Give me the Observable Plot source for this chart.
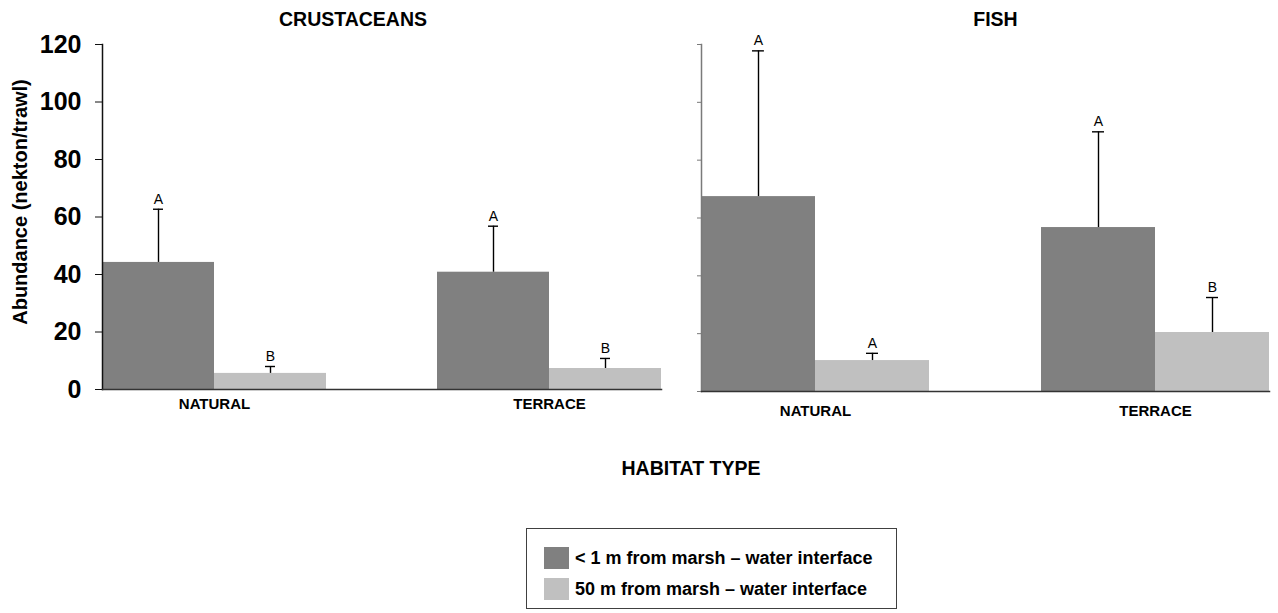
<!DOCTYPE html>
<html>
<head>
<meta charset="utf-8">
<script src="https://cdn.jsdelivr.net/npm/d3@7"></script>
<script src="https://cdn.jsdelivr.net/npm/@observablehq/plot@0.6"></script>
<style>
  html, body { margin: 0; padding: 0; background: #fff; }
  #wrap { position: relative; width: 1278px; height: 613px; overflow: hidden; background: #fff;
          font-family: "Liberation Sans", Arial, sans-serif; }
  #wrap svg { position: absolute; top: 0; }
</style>
</head>
<body>
<div id="wrap"></div>
<script>
// ---- data ----
const habitats = ["NATURAL", "TERRACE"];
const distances = ["< 1 m from marsh – water interface", "50 m from marsh – water interface"];
const colors = ["#808080", "#c0c0c0"];
const yTicks = [0, 20, 40, 60, 80, 100, 120];

// Crustaceans (mean, standard error, significance letter) per habitat
const crustNearMean = [44.2, 40.8];
const crustNearSE   = [18.5, 16.0];
const crustFarMean  = [5.6, 7.3];
const crustFarSE    = [2.4, 3.5];
const crustNearLetter = ["A", "A"];
const crustFarLetter  = ["B", "B"];

// Fish
const fishNearMean = [67.4, 56.7];
const fishNearSE   = [50.4, 33.1];
const fishFarMean  = [10.7, 20.4];
const fishFarSE    = [2.5, 12.1];
const fishNearLetter = ["A", "A"];
const fishFarLetter  = ["A", "B"];

const panelTitles = ["CRUSTACEANS", "FISH"];
const yTitle = "Abundance (nekton/trawl)";
const xTitle = "HABITAT TYPE";

function rowsFor(nm, ns, nl, fm, fs, fl) {
  const rows = [];
  habitats.forEach((h, i) => {
    rows.push({habitat: h, distance: distances[0], mean: nm[i], se: ns[i], letter: nl[i]});
    rows.push({habitat: h, distance: distances[1], mean: fm[i], se: fs[i], letter: fl[i]});
  });
  return rows;
}

const FONT = "Liberation Sans, Arial, sans-serif";

function panel(rows, o, useSuper) {
  const up = d => d.mean + d.se;
  const frameOpts = (anchor, stroke, sw) => useSuper
    ? {anchor, facet: "super", stroke, strokeWidth: sw}
    : {anchor, stroke, strokeWidth: sw};
  return Plot.plot({
    width: o.width, height: 430,
    marginLeft: o.ml, marginRight: o.mr, marginTop: 44, marginBottom: o.mb,
    style: {fontFamily: FONT, background: "transparent", color: "#000"},
    fx: {domain: habitats, paddingInner: 0.33, paddingOuter: 0},
    x: {domain: distances, padding: 0, axis: null},
    y: {domain: [0, 120]},
    color: {domain: distances, range: colors},
    marks: [
      Plot.barY(rows, {fx: "habitat", x: "distance", y: "mean", fill: "distance"}),
      Plot.ruleX(rows, {fx: "habitat", x: "distance", y1: "mean", y2: up, stroke: "#000", strokeWidth: 1.4}),
      Plot.tickY(rows, {fx: "habitat", x: "distance", y: up, stroke: "#000", strokeWidth: 1.4, insetLeft: 51, insetRight: 51}),
      Plot.text(rows, {fx: "habitat", x: "distance", y: up, text: "letter", dy: -10, fontSize: 14, fill: "#000"}),
      Plot.frame(frameOpts("left", o.axisColor, 1.5)),
      Plot.frame(frameOpts("bottom", "#333", 1.5)),
      Plot.axisY({ticks: yTicks, tickSize: o.tickSize, tickPadding: 14, fontSize: 25, fontWeight: "bold",
                  stroke: o.axisColor, fill: "#000", label: null,
                  tickFormat: o.labels ? (d => d) : (() => "")}),
      Plot.axisFx({anchor: "bottom", tickSize: 0, tickPadding: o.fxPad, fontSize: 15, fontWeight: "bold", fill: "#000", label: null})
    ]
  });
}

const crustRows = rowsFor(crustNearMean, crustNearSE, crustNearLetter, crustFarMean, crustFarSE, crustFarLetter);
const fishRows  = rowsFor(fishNearMean, fishNearSE, fishNearLetter, fishFarMean, fishFarSE, fishFarLetter);

const leftOpts  = {width: 680, ml: 102, mr: 18, mb: 41, axisColor: "#111", tickSize: 7, labels: true, fxPad: 9};
const rightOpts = {width: 598, ml: 21, mr: 9, mb: 39, axisColor: "#7a7a7a", tickSize: 4, labels: false, fxPad: 14};

function build(useSuper) {
  return [panel(crustRows, leftOpts, useSuper), panel(fishRows, rightOpts, useSuper)];
}
let charts;
try { charts = build(true); } catch (e) { charts = build(false); }

const wrap = document.getElementById("wrap");
charts[0].style.left = "0px";
charts[1].style.left = "680px";
wrap.appendChild(charts[0]);
wrap.appendChild(charts[1]);

// ---- overlay texts & legend ----
const ov = d3.select(wrap).append("svg")
  .attr("width", 1278).attr("height", 613)
  .style("left", "0px").style("pointer-events", "none")
  .attr("font-family", FONT);

const titleX = [353, 995.5];
ov.selectAll("text.title").data(panelTitles).join("text")
  .attr("class", "title")
  .attr("x", (d, i) => titleX[i]).attr("y", 26)
  .attr("text-anchor", "middle").attr("font-weight", "bold").attr("font-size", 19.5)
  .text(d => d);

ov.append("text")
  .attr("transform", "translate(27,202) rotate(-90)")
  .attr("text-anchor", "middle").attr("font-weight", "bold").attr("font-size", 20)
  .text(yTitle);

ov.append("text")
  .attr("x", 691).attr("y", 475)
  .attr("text-anchor", "middle").attr("font-weight", "bold").attr("font-size", 19.5)
  .text(xTitle);

const lg = ov.append("g");
lg.append("rect").attr("x", 526.5).attr("y", 528.5).attr("width", 370).attr("height", 80)
  .attr("fill", "#fff").attr("stroke", "#404040").attr("stroke-width", 1);
const rowY = [547, 578];
distances.forEach((d, i) => {
  lg.append("rect").attr("x", 544).attr("y", rowY[i]).attr("width", 25).attr("height", 22).attr("fill", colors[i]);
  lg.append("text").attr("x", 575).attr("y", rowY[i] + 17)
    .attr("font-weight", "bold").attr("font-size", 18).text(d);
});
</script>
</body>
</html>
